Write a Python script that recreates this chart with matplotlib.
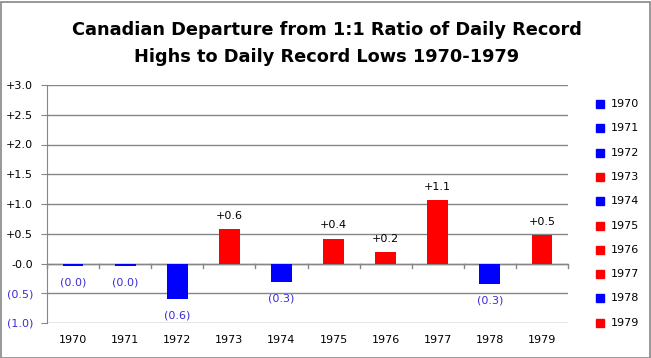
import numpy as np
import matplotlib.pyplot as plt
from matplotlib.patches import Rectangle

years = ['1970', '1971', '1972', '1973', '1974', '1975', '1976', '1977', '1978', '1979']
values = [-0.04, -0.04, -0.60, 0.58, -0.31, 0.42, 0.19, 1.06, -0.34, 0.48]
labels = ['(0.0)', '(0.0)', '(0.6)', '+0.6', '(0.3)', '+0.4', '+0.2', '+1.1', '(0.3)', '+0.5']
yticks = [-1.0, -0.5, 0.0, 0.5, 1.0, 1.5, 2.0, 2.5, 3.0]
ytick_labels = ['(1.0)', '(0.5)', '-0.0', '+0.5', '+1.0', '+1.5', '+2.0', '+2.5', '+3.0']

blue = '#0000ff'
red = '#ff0000'
neg_col = '#3a2bd8'
grid_col = '#868686'

fig = plt.figure(figsize=(6.51, 3.58), dpi=100)
ax = fig.add_axes([47 / 651, 1 - 323 / 358, 521 / 651, 238 / 358])

x = np.arange(len(years))
colors = [red if v > 0 else blue for v in values]
ax.bar(x, values, width=0.4, color=colors, zorder=5)

for xi, v, lab in zip(x, values, labels):
    if v > 0:
        ax.text(xi, v + 0.22, lab, ha='center', va='center', fontsize=8, color='black')
    else:
        ax.text(xi, v - 0.28, lab, ha='center', va='center', fontsize=8, color=neg_col)

ax.set_xlim(-0.5, len(years) - 0.5)
ax.set_ylim(-1.0, 3.0)
ax.set_yticks(yticks)
ax.set_yticklabels(ytick_labels, fontsize=8)
for t, v in zip(ax.get_yticklabels(), yticks):
    t.set_color(neg_col if v < 0 else 'black')
ax.yaxis.grid(True, color=grid_col, lw=1, zorder=0)
ax.tick_params(axis='y', length=4, color=grid_col, pad=6)

# category labels sit at the bottom, tick marks on the zero line
ax.set_xticks([])
for xi, yr in zip(x, years):
    ax.text(xi, -1.29, yr, ha='center', va='center', fontsize=8)
ax.axhline(0, color=grid_col, lw=1, zorder=4)
for b in np.arange(-0.5, len(years)):
    ax.plot([b, b], [0, -0.08], color=grid_col, lw=1, zorder=4, clip_on=False)

for s in ['top', 'right', 'bottom']:
    ax.spines[s].set_visible(False)
ax.spines['left'].set_color(grid_col)

# legend
for i, (yr, c) in enumerate(zip(years, colors)):
    yy = 104 + i * 24.3
    fig.patches.append(Rectangle((596 / 651, 1 - (yy + 4) / 358), 8 / 651, 8 / 358,
                                 transform=fig.transFigure, color=c))
    fig.text(611 / 651, 1 - yy / 358, yr, fontsize=8, va='center', ha='left')

fig.text(0.502, 1 - 30 / 358, 'Canadian Departure from 1:1 Ratio of Daily Record',
         ha='center', va='center', fontsize=12.8, fontweight='bold')
fig.text(0.502, 1 - 57 / 358, 'Highs to Daily Record Lows 1970-1979',
         ha='center', va='center', fontsize=12.8, fontweight='bold')

fig.patches.append(Rectangle((0.5 / 651, 0.5 / 358), 649 / 651, 356 / 358,
                             transform=fig.transFigure, fill=False, edgecolor='#868686', lw=1.2))

plt.savefig('out.png', dpi=100)
